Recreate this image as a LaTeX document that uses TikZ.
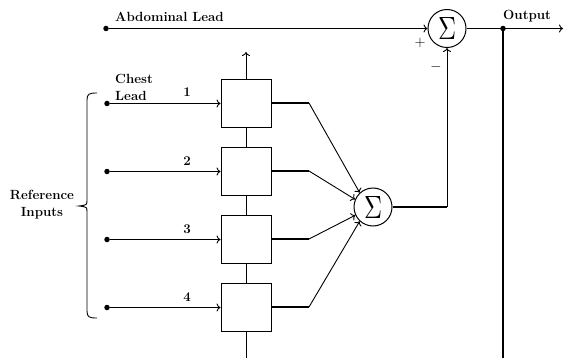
\documentclass[tikz,border=0pt]{standalone}
\usetikzlibrary{arrows.meta}
\begin{document}
\begin{tikzpicture}[x=1pt,y=-1pt,
  thinln/.style={line width=0.9pt},
  thickln/.style={line width=1.7pt},
  arr/.style={thinln,-{To[length=4pt,width=8pt]}},
  dot/.style={circle,fill=black,inner sep=0pt,minimum size=5.5pt},
  filt/.style={draw,line width=0.9pt,minimum width=50pt,minimum height=48pt,inner sep=0pt},
  summer/.style={draw,circle,line width=1pt,minimum size=38pt,inner sep=0pt},
  lbl/.style={font=\fontsize{13.3}{17}\selectfont\bfseries,inner sep=0pt},
  sgn/.style={font=\fontsize{14}{16}\selectfont,inner sep=0pt}]
\useasboundingbox (0,0) rectangle (564,358);

% top summer and abdominal lead
\node[dot] (ab) at (106,28.5) {};
\node[summer] (sigT) at (447,28.5) {\resizebox{18pt}{22pt}{$\Sigma$}};
\node[lbl,anchor=base west] (abl) at (115,22) {Abdominal Lead};
\node[sgn] (plus) at (420,43) {$+$};
\node[sgn] (minus) at (436,67) {$-$};
\draw[arr] (ab) -- (sigT);

% output
\node[dot] (od) at (503,28.5) {};
\coordinate (oend) at (563,28.5);
\coordinate (obot) at (503,358);
\node[lbl,anchor=base west] (outl) at (503,20) {Output};
\draw[arr] (sigT.east) -- (oend);
\draw[line width=2pt] (od) -- (obot);

% filter boxes
\node[filt] (b1) at (246,103) {};
\node[filt] (b2) at (246,171) {};
\node[filt] (b3) at (246,239) {};
\node[filt] (b4) at (246,307) {};
\coordinate (btop) at (246,52);
\coordinate (bbot) at (246,358);
\draw[arr] (b1.north) -- (btop);
\draw[thinln] (b1.south) -- (b2.north);
\draw[thinln] (b2.south) -- (b3.north);
\draw[thinln] (b3.south) -- (b4.north);
\draw[thinln] (b4.south) -- (bbot);

% inputs
\node[dot] (i1) at (107,103.5) {};
\node[dot] (i2) at (107,171.5) {};
\node[dot] (i3) at (107,239.5) {};
\node[dot] (i4) at (107,307.5) {};
\draw[arr] (i1) -- (i1 -| b1.west);
\draw[arr] (i2) -- (i2 -| b2.west);
\draw[arr] (i3) -- (i3 -| b3.west);
\draw[arr] (i4) -- (i4 -| b4.west);
\node[lbl,anchor=base] (n1) at (187,97) {1};
\node[lbl,anchor=base] (n2) at (187,165) {2};
\node[lbl,anchor=base] (n3) at (187,233) {3};
\node[lbl,anchor=base] (n4) at (187,301) {4};
\node[lbl,anchor=base west,align=left] (chest) at (115,101) {Chest\\Lead};

% brace and label
\draw[thinln] (97,93) .. controls (89,93) and (87,94) .. (87,100) -- (87,200)
  .. controls (87,205) .. (79,206) .. controls (87,207) .. (87,212) -- (87,311)
  .. controls (87,317) and (89,318) .. (97,318);
\node[lbl,align=center] (ref) at (42,205) {Reference\\Inputs};

% lower summer
\node[summer] (sigL) at (373,207) {\resizebox{18pt}{22pt}{$\Sigma$}};
\coordinate (k1) at (309,103);
\coordinate (k2) at (309,171);
\coordinate (k3) at (309,239);
\coordinate (k4) at (309,307);
\draw[thickln] (b1.east) -- (k1);
\draw[thickln] (b2.east) -- (k2);
\draw[thickln] (b3.east) -- (k3);
\draw[thickln] (b4.east) -- (k4);
\draw[arr] (k1) -- (sigL.133);
\draw[arr] (k2) -- (sigL.157);
\draw[arr] (k3) -- (sigL.205);
\draw[arr] (k4) -- (sigL.227);

% feedback to top summer
\coordinate (corner) at (sigT.south |- sigL.east);
\draw[thickln] (sigL.east) -- (corner);
\draw[arr] (corner) -- (sigT.south);
\end{tikzpicture}
\end{document}
